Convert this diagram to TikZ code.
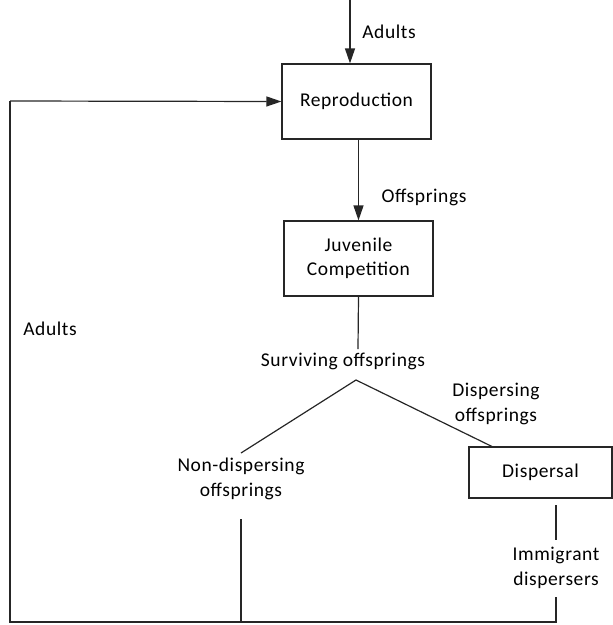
\documentclass[tikz,border=0pt]{standalone}
\usepackage{fontspec}
\setmainfont{Carlito}[LetterSpace=3]
\usetikzlibrary{arrows.meta}
\begin{document}
\begin{tikzpicture}[x=1pt,y=-1pt,
  box/.style={draw=black!85,line width=1.2pt,rectangle,inner sep=0pt,align=center,font=\fontsize{19.5}{24}\selectfont},
  lbl/.style={inner sep=0pt,align=center,font=\fontsize{19.5}{25}\selectfont},
  con/.style={line width=1.2pt,draw=black!85},
  arr/.style={con,-{Triangle[length=15pt,width=10pt]}}]
\useasboundingbox (0,0) rectangle (613,625);
\node[box,minimum width=149pt,minimum height=75pt] (rep) at (356.5,101.5) {Reproduction};
\node[box,minimum width=149pt,minimum height=75pt] (juv) at (358.5,258.5) {Juvenile\\Competition};
\node[box,minimum width=143pt,minimum height=51pt] (disp) at (540.5,472.5) {Dispersal};
\node[lbl] (adtop) at (389,32) {Adults};
\node[lbl] (off) at (424,197) {Offsprings};
\node[lbl] (surv) at (343,361) {Surviving offsprings};
\node[lbl] (dispoff) at (496,404) {Dispersing\\offsprings};
\node[lbl] (nondisp) at (241,479) {Non-dispersing\\offsprings};
\node[lbl] (imm) at (556,568) {Immigrant\\dispersers};
\node[lbl] (adleft) at (50,329) {Adults};
\coordinate (top) at (350,0);
\coordinate (peak) at (356,380);
\coordinate (lend) at (241,453);
\coordinate (bl) at (10,622);
\coordinate (tl) at (10,101);
\draw[arr] (top) -- (rep.north -| top);
\draw[arr] (rep.south -| juv) -- (juv.north);
\draw[con] (juv.south) -- (358,349);
\draw[con] (lend) -- (peak) -- (493,447);
\draw[con] (241,519) -- (241,622);
\draw[con] (556,505) -- (556,540);
\draw[con] (556,597) -- (556,622) -- (bl) -- (tl);
\draw[arr] (tl) -- (rep.west);
\end{tikzpicture}
\end{document}
